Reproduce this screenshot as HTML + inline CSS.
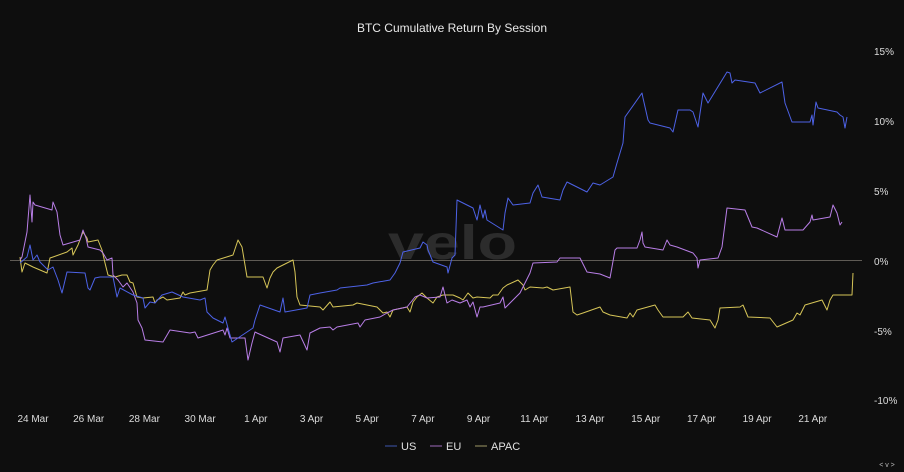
<!DOCTYPE html>
<html>
<head>
<meta charset="utf-8">
<style>
  html,body{margin:0;padding:0;background:#0e0e0e;}
  body{width:904px;height:472px;overflow:hidden;}
  svg{display:block;}
  text{font-family:"Liberation Sans",sans-serif;}
</style>
</head>
<body>
<svg width="904" height="472" viewBox="0 0 904 472" xmlns="http://www.w3.org/2000/svg">
  <rect x="0" y="0" width="904" height="472" fill="#0e0e0e"/>

  <!-- title -->
  <text x="452" y="32" text-anchor="middle" font-size="12" fill="#e8e8e8">BTC Cumulative Return By Session</text>

  <!-- watermark -->
  <text x="388" y="259" font-size="48" font-weight="bold" fill="#2c2c2c" textLength="129" lengthAdjust="spacingAndGlyphs">velo</text>

  <!-- zero line -->
  <line x1="10" y1="260.5" x2="862" y2="260.5" stroke="#5f5b55" stroke-width="1"/>

  <!-- y axis labels -->
  <g font-size="10" fill="#dcdcdc">
    <text x="874" y="55">15%</text>
    <text x="874" y="125">10%</text>
    <text x="874" y="195">5%</text>
    <text x="874" y="265">0%</text>
    <text x="874" y="335">-5%</text>
    <text x="874" y="404">-10%</text>
  </g>

  <!-- x axis labels -->
  <g font-size="10" fill="#dcdcdc" text-anchor="middle">
    <text x="33" y="422">24 Mar</text>
    <text x="88.7" y="422">26 Mar</text>
    <text x="144.4" y="422">28 Mar</text>
    <text x="200.1" y="422">30 Mar</text>
    <text x="255.8" y="422">1 Apr</text>
    <text x="311.5" y="422">3 Apr</text>
    <text x="367.2" y="422">5 Apr</text>
    <text x="422.9" y="422">7 Apr</text>
    <text x="478.6" y="422">9 Apr</text>
    <text x="534.3" y="422">11 Apr</text>
    <text x="590" y="422">13 Apr</text>
    <text x="645.7" y="422">15 Apr</text>
    <text x="701.4" y="422">17 Apr</text>
    <text x="757.1" y="422">19 Apr</text>
    <text x="812.8" y="422">21 Apr</text>
  </g>

  <!-- APAC -->
  <polyline fill="none" stroke="#d6c558" stroke-width="1" stroke-linejoin="round" points="20,257 22,272 25,263 33,267 47,273 50,258 53,257 67,252 72,248 73,255 78,245 83,232 87,238 88,242 98,240 102,250 105,263 108,275 115,277 122,275 127,275 130,282 133,283 137,297 143,298 153,297 155,303 157,300 163,297 167,300 180,298 183,292 185,295 190,293 207,290 210,270 213,265 217,260 233,255 238,240 242,247 247,277 263,277 267,288 270,278 273,272 277,268 293,260 295,272 297,297 300,305 320,307 323,310 330,302 333,307 353,305 357,303 377,307 383,313 387,312 390,317 393,310 407,307 410,312 413,302 417,297 422,293 427,298 433,303 437,297 443,295 453,295 460,298 463,300 468,293 473,298 477,297 490,298 493,295 498,295 503,288 507,285 518,280 523,285 525,290 530,287 543,288 547,287 553,290 570,287 573,312 577,315 583,313 600,307 603,312 610,315 627,318 630,313 633,317 637,310 655,305 658,310 663,317 683,317 688,312 692,318 710,320 715,328 718,320 720,308 740,307 743,305 748,317 770,318 777,327 793,320 797,313 800,315 805,305 822,300 827,310 830,300 833,295 852,295 853,273"/>

  <!-- EU -->
  <polyline fill="none" stroke="#b87ee6" stroke-width="1" stroke-linejoin="round" points="20,260 22,257 27,232 30,195 32,222 33,202 35,205 52,210 53,202 57,212 60,235 63,245 80,240 83,230 86,238 88,247 100,250 103,253 107,260 112,258 113,275 118,280 123,287 127,283 133,292 137,303 138,320 142,328 145,340 163,342 170,330 190,333 195,332 198,338 220,331 223,330 225,335 227,328 230,338 245,338 248,360 252,343 255,332 257,333 277,342 280,352 283,338 300,335 307,350 310,333 320,328 330,327 333,330 337,327 358,323 360,327 365,320 380,317 387,313 393,310 407,307 415,297 420,295 427,298 440,297 443,287 447,303 452,300 460,303 467,300 470,307 473,302 477,317 480,307 483,307 500,303 503,297 505,308 520,293 530,273 533,263 557,262 560,258 580,258 587,272 600,274 610,278 615,250 617,248 637,248 640,240 642,232 643,243 645,247 663,250 667,240 670,245 677,247 693,253 697,258 698,268 700,260 718,258 722,247 727,208 745,210 752,227 757,228 777,237 782,218 785,230 803,230 810,222 812,215 813,220 830,217 833,205 837,213 840,225 842,222"/>

  <!-- US -->
  <polyline fill="none" stroke="#4d62e6" stroke-width="1" stroke-linejoin="round" points="20,263 27,257 30,245 33,260 37,255 40,262 48,270 53,267 58,280 62,293 67,272 85,273 88,288 90,290 95,278 100,277 113,277 117,297 120,288 133,295 143,298 145,308 150,302 155,303 162,295 172,292 183,297 200,300 205,298 207,312 213,318 223,323 225,317 228,328 232,342 253,328 255,320 260,305 280,312 283,298 285,312 307,308 310,295 320,293 337,290 340,288 367,285 373,283 390,280 395,273 400,263 403,252 420,248 423,242 427,245 428,250 433,262 447,267 448,273 452,258 455,255 457,200 473,208 477,220 480,205 483,218 485,210 487,220 503,230 505,213 508,198 513,205 530,203 533,193 538,185 542,197 560,200 563,190 567,182 587,192 593,183 600,185 613,177 617,163 623,143 625,117 642,93 643,98 648,120 650,123 670,128 673,132 678,110 690,110 693,112 698,127 703,93 708,103 727,72 730,73 732,83 735,80 755,83 760,93 782,82 785,103 792,122 810,122 812,115 813,125 816,102 818,108 837,112 840,115 843,117 845,128 847,117"/>

  <!-- legend -->
  <line x1="385" y1="446" x2="397" y2="446" stroke="#2f3f78" stroke-width="1.5"/>
  <text x="401" y="450" font-size="11" fill="#e0e0e0">US</text>
  <line x1="430" y1="446" x2="442" y2="446" stroke="#6e4c82" stroke-width="1.5"/>
  <text x="446" y="450" font-size="11" fill="#e0e0e0">EU</text>
  <line x1="475" y1="446" x2="487" y2="446" stroke="#6e6a48" stroke-width="1.5"/>
  <text x="491" y="450" font-size="11" fill="#e0e0e0">APAC</text>

  <!-- nav glyph -->
  <text x="887" y="467" font-size="7" fill="#bdbdbd" text-anchor="middle">&lt; v &gt;</text>
</svg>
</body>
</html>
